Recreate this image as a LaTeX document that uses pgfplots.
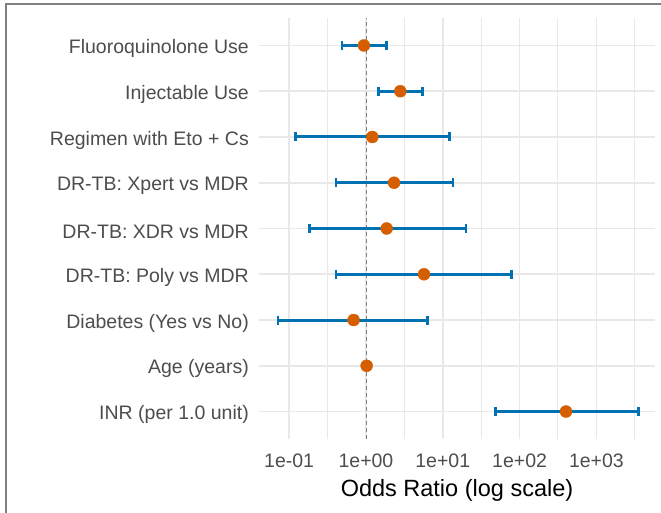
\documentclass[border=0pt]{standalone}
\usepackage{fontspec}
\setmainfont{Liberation Sans}
\usepackage{pgfplots}
\pgfplotsset{compat=1.18}
\definecolor{cibar}{HTML}{0072B2}
\definecolor{ptc}{HTML}{D55E00}
\definecolor{gridc}{RGB}{232,232,232}
\definecolor{txt}{RGB}{77,77,77}
\definecolor{framec}{RGB}{128,128,128}
\begin{document}
\begin{tikzpicture}
\useasboundingbox (0pt,0pt) rectangle (661pt,513pt);
\fill[white] (0pt,0pt) rectangle (661pt,513pt);
\draw[framec, line width=2pt] (6pt,0pt) -- (6pt,509pt) -- (661pt,509pt);
\begin{axis}[
  at={(259pt,74pt)}, anchor=south west,
  scale only axis, width=396pt, height=421pt,
  xmode=log, xmin=0.0405, xmax=5794,
  ymin=0.4, ymax=9.6,
  xtick={0.1,1,10,100,1000},
  xticklabels={1e-01,1e+00,1e+01,1e+02,1e+03},
  minor xtick={0.3162,3.162,31.62,316.2,3162},
  ytick={1,2,3,4,5,6,7,8,9},
  yticklabels={INR (per 1.0 unit),Age (years),Diabetes (Yes vs No),DR-TB: Poly vs MDR,DR-TB: XDR vs MDR,DR-TB: Xpert vs MDR,Regimen with Eto + Cs,Injectable Use,Fluoroquinolone Use},
  xmajorgrids, xminorgrids, ymajorgrids,
  major grid style={gridc, line width=1.6pt},
  minor grid style={gridc, line width=1pt},
  axis line style={draw=none},
  major tick length=0pt, minor tick length=0pt,
  /pgf/number format/assume math mode=true,
  tick label style={font=\fontsize{19.5}{23}\selectfont, text=txt},
  xticklabel style={anchor=base, yshift=-29pt},
  yticklabel style={anchor=east, inner sep=0pt, xshift=-10pt, yshift=-3pt},
  xlabel={Odds Ratio (log scale)},
  xlabel style={font=\fontsize{23.5}{28}\selectfont, at={(rel axis cs:0.5,0)}, anchor=base, yshift=-58pt, text=black},
]
\addplot[gray, dashed, line width=0.8pt, dash pattern=on 4pt off 3pt] coordinates {(1,0.4) (1,9.6)};
\addplot[cibar, line width=3pt, mark=|, mark size=4.5pt, mark options={line width=2.4pt, solid}, unbounded coords=jump] table[row sep=\\] {
x y\\
0.49 9\\ 1.84 9\\ nan nan\\
1.46 8\\ 5.47 8\\ nan nan\\
0.121 7\\ 12.2 7\\ nan nan\\
0.41 6\\ 13.6 6\\ nan nan\\
0.183 5\\ 20.0 5\\ nan nan\\
0.41 4\\ 78.9 4\\ nan nan\\
0.072 3\\ 6.35 3\\ nan nan\\
48.3 1\\ 3515 1\\
};
\addplot[only marks, mark=*, mark size=6pt, color=ptc, mark options={fill=ptc, draw=ptc}] table[row sep=\\] {
x y\\
0.94 9\\
2.8 8\\
1.21 7\\
2.32 6\\
1.86 5\\
5.7 4\\
0.69 3\\
1.02 2\\
402 1\\
};
\end{axis}
\end{tikzpicture}
\end{document}
